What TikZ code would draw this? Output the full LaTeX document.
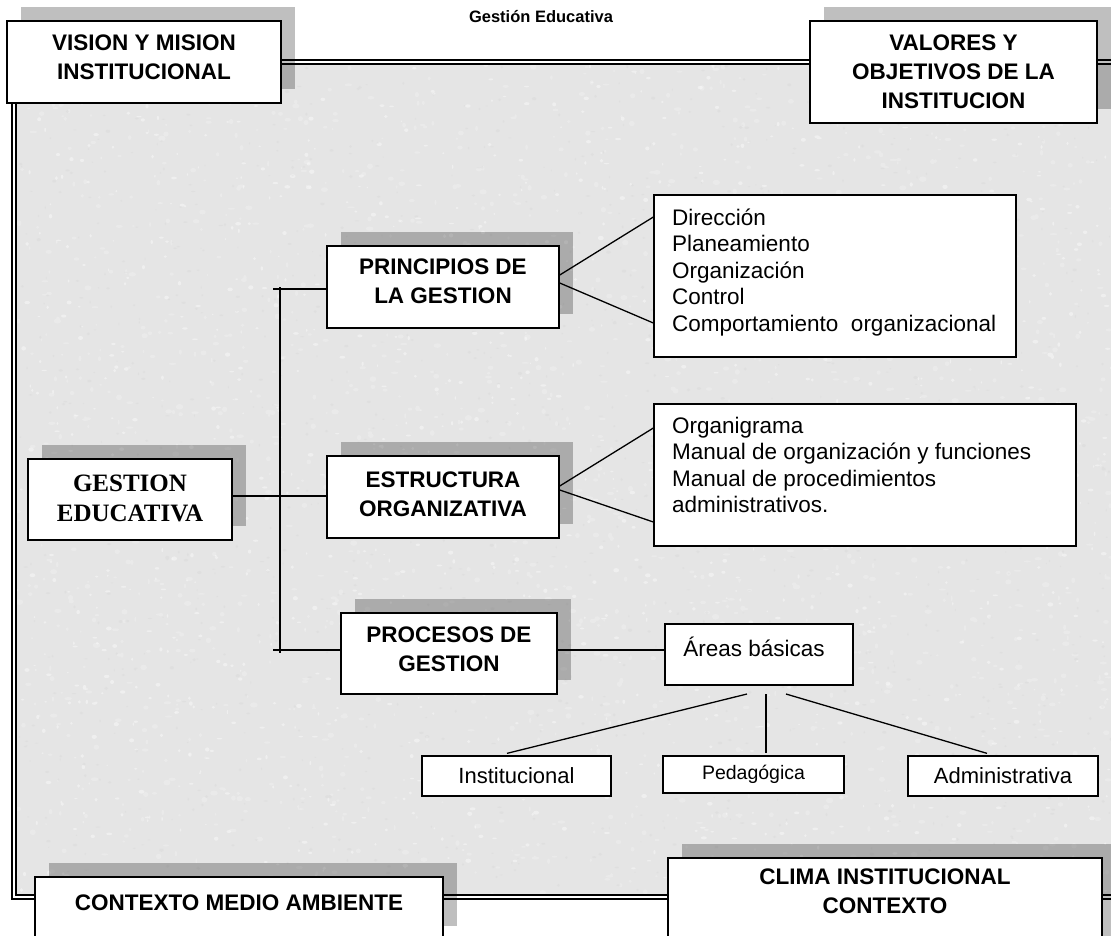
\documentclass[tikz,border=0pt]{standalone}
\usepackage{fontspec}
\setmainfont{Liberation Sans}
\newfontfamily\timesfont{Liberation Serif}
\usetikzlibrary{shadows}
\definecolor{paper}{RGB}{229,229,229}
\definecolor{speck}{RGB}{200,200,200}
\begin{document}
\begin{tikzpicture}[x=1pt,y=-1pt,
  hbox/.style={draw=black, line width=1.5pt, fill=white, inner sep=0pt},
  lbox/.style={draw=black, line width=1.3pt, fill=white, inner sep=0pt},
  shadowed/.style={drop shadow={shadow xshift=14pt, shadow yshift=14pt, fill=black, opacity=0.25}},
  frame/.style={draw=black, line width=1.3pt, double=white, double distance=2.7pt},
  htext/.style={font=\fontsize{22.5}{29}\selectfont\bfseries, align=center, inner sep=0pt},
  ltext/.style={font=\fontsize{22.5}{26.5}\selectfont, anchor=base west, inner sep=0pt},
  stext/.style={font=\fontsize{22}{26}\selectfont},
  link/.style={draw=black, line width=1.3pt},
]
\useasboundingbox (0,0) rectangle (1111,935);
\clip (0,0) rectangle (1111,935);
\fill[white] (0,0) rectangle (1111,935);

% mottled sheet inside the frame
\fill[paper] (16,64) rectangle (1130,895);
\pgfmathsetseed{4242}
\begin{scope}
  \clip (16,64) rectangle (1111,895);
  \fill[white, opacity=0.22] foreach \k in {1,...,1600}{
    ({16+1095*rnd},{64+831*rnd}) ellipse [x radius={0.8+3*rnd}, y radius={0.8+2*rnd}]};
  \fill[white, opacity=0.4] foreach \k in {1,...,1400}{
    ({16+1095*rnd},{64+831*rnd}) ellipse [x radius={0.6+2.4*rnd}, y radius={0.6+1.6*rnd}]};
  \fill[speck, opacity=0.18] foreach \k in {1,...,1200}{
    ({16+1095*rnd},{64+831*rnd}) ellipse [x radius={0.5+1.8*rnd}, y radius={0.5+1.2*rnd}]};
\end{scope}
\draw[frame] (14,62) rectangle (1130,897);

% heading
\node[font=\fontsize{16.5}{20}\selectfont\bfseries, inner sep=0pt] (title) at (541,17) {Gestión Educativa};

% corner boxes
\node[hbox, shadowed, minimum width=274pt, minimum height=82pt] (vision) at (144,62) {};
\node[hbox, shadowed, minimum width=287pt, minimum height=102pt] (valores) at (953.5,72) {};
\node[hbox, shadowed, minimum width=408pt, minimum height=63pt] (contexto) at (239,908.5) {};
\node[hbox, shadowed, minimum width=434pt, minimum height=102pt] (clima) at (885,909) {};

\node[htext] (visionT) at (144,57.5) {VISION Y MISION\\INSTITUCIONAL};
\node[htext] (valoresT) at (953.5,71.5) {VALORES Y\\OBJETIVOS DE LA\\INSTITUCION};
\node[htext] (contextoT) at (239,903) {CONTEXTO MEDIO AMBIENTE};
\node[htext] (climaT) at (885,891) {CLIMA INSTITUCIONAL\\CONTEXTO};

% main boxes
\node[hbox, shadowed, minimum width=204pt, minimum height=81pt] (gestion) at (130,499.5) {};
\node[hbox, shadowed, minimum width=232pt, minimum height=82pt] (princ) at (443,287) {};
\node[hbox, shadowed, minimum width=232pt, minimum height=82pt] (estr) at (443,497) {};
\node[hbox, shadowed, minimum width=216pt, minimum height=81pt] (proc) at (449,653.5) {};

\node[htext, font=\timesfont\fontsize{25}{30}\selectfont\bfseries] (gestionT) at (130,498) {GESTION\\EDUCATIVA};
\node[htext] (princT) at (443,281.5) {PRINCIPIOS DE\\LA GESTION};
\node[htext] (estrT) at (443,494.5) {ESTRUCTURA\\ORGANIZATIVA};
\node[htext] (procT) at (449,649) {PROCESOS DE\\GESTION};

% detail boxes
\node[lbox, minimum width=362pt, minimum height=162pt] (lista1) at (835,276) {};
\node[ltext] (lista1T) at (672,225) {\begin{tabular}[t]{@{}l@{}}Dirección\\Planeamiento\\Organización\\Control\\Comportamiento\ \ organizacional\end{tabular}};
\node[lbox, minimum width=422pt, minimum height=142pt] (lista2) at (865,475) {};
\node[ltext] (lista2T) at (672,433) {\begin{tabular}[t]{@{}l@{}}Organigrama\\Manual de organización y funciones\\Manual de procedimientos\\administrativos.\end{tabular}};

\node[lbox, minimum width=188pt, minimum height=61pt] (areas) at (759,654.5) {};
\node[font=\fontsize{22.5}{26}\selectfont, inner sep=0pt] (areasT) at (754,647) {Áreas básicas};

\node[lbox, stext, minimum width=189pt, minimum height=40pt] (inst) at (516.5,776) {Institucional};
\node[lbox, stext, font=\fontsize{19.5}{23}\selectfont, minimum width=181pt, minimum height=37pt] (peda) at (753.5,774.5) {Pedagógica};
\node[lbox, stext, minimum width=190pt, minimum height=40pt] (admin) at (1003,776) {Administrativa};

% connectors
\coordinate (busTop) at (280,287);
\coordinate (busBot) at (280,653);
\coordinate (tickTop) at (273,289);
\coordinate (tickBot) at (273,650);
\draw[link] (busTop) -- (busBot);
\draw[link] (tickTop) -- (tickTop -| princ.west);
\draw[link] (tickBot) -- (tickBot -| proc.west);
\draw[link] ([yshift=3.5pt]gestion.east) -- ([yshift=1pt]estr.west);

\draw[link] ([yshift=12pt]princ.east) -- ([yshift=59pt]lista1.west);
\draw[link] ([yshift=4pt]princ.east) -- ([yshift=-47pt]lista1.west);
\draw[link] ([yshift=11pt]estr.east) -- ([yshift=47pt]lista2.west);
\draw[link] ([yshift=7pt]estr.east) -- ([yshift=-47pt]lista2.west);

\draw[link] ([yshift=3.5pt]proc.east) -- ([yshift=4.5pt]areas.west);
\coordinate (aL) at (747,694);
\coordinate (aM) at (766,694);
\coordinate (aR) at (786,694);
\draw[link] (aL) -- ([xshift=-9.5pt,yshift=2pt]inst.north);
\draw[link] (aM) -- ([xshift=12.5pt,yshift=2pt]peda.north);
\draw[link] (aR) -- ([xshift=-16pt,yshift=2pt]admin.north);
\end{tikzpicture}
\end{document}
